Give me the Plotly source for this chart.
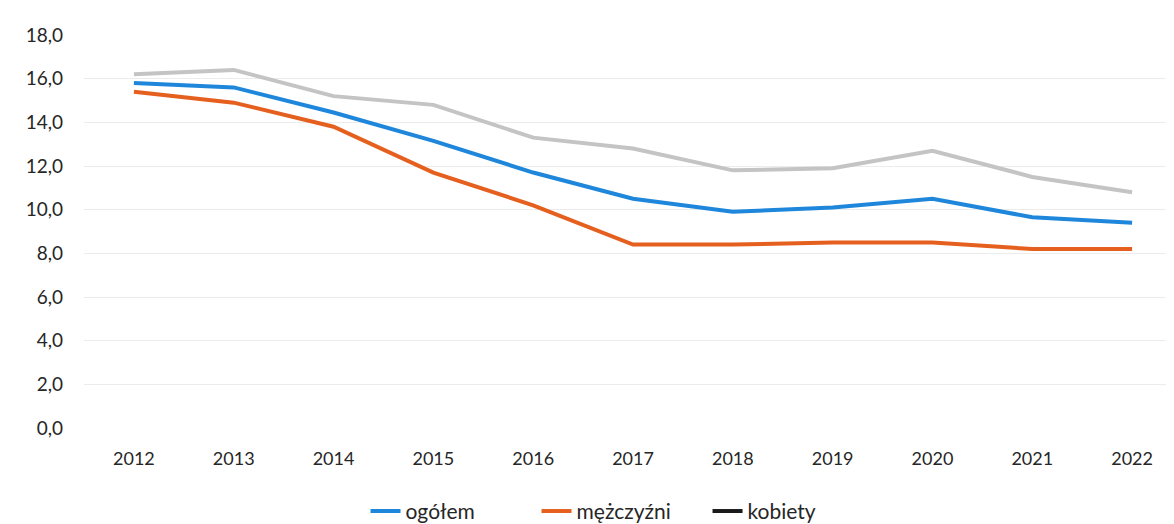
import plotly.graph_objects as go

years = ['2012', '2013', '2014', '2015', '2016', '2017', '2018', '2019', '2020', '2021', '2022']
ogolem = [15.8, 15.6, 14.45, 13.15, 11.7, 10.5, 9.9, 10.1, 10.5, 9.65, 9.4]
mezczyzni = [15.4, 14.9, 13.8, 11.7, 10.2, 8.4, 8.4, 8.5, 8.5, 8.2, 8.2]
kobiety = [16.2, 16.4, 15.2, 14.8, 13.3, 12.8, 11.8, 11.9, 12.7, 11.5, 10.8]
y_ticks = [0, 2, 4, 6, 8, 10, 12, 14, 16, 18]

fig = go.Figure()

fig.add_trace(go.Scatter(x=years, y=kobiety, name='kobiety', mode='lines',
                         line=dict(color='#c4c4c4', width=4), showlegend=False))
fig.add_trace(go.Scatter(x=years, y=ogolem, name='ogółem', mode='lines',
                         line=dict(color='#1f87db', width=4)))
fig.add_trace(go.Scatter(x=years, y=mezczyzni, name='mężczyźni', mode='lines',
                         line=dict(color='#e5601e', width=4)))
# legend entry for kobiety is drawn black in the original
fig.add_trace(go.Scatter(x=[None], y=[None], name='kobiety', mode='lines',
                         line=dict(color='#1a1a1a', width=4)))

fig.update_xaxes(type='category', range=[-0.5, len(years) - 0.5],
                 showgrid=False, showline=False, zeroline=False,
                 ticks='', ticklabelstandoff=18, tickfont=dict(size=18, color='#262626'))
fig.update_yaxes(range=[0, 18], tickvals=y_ticks, tickformat='.1f',
                 showgrid=True, gridcolor='#ececec', gridwidth=1, zeroline=False,
                 showline=False, ticks='', ticklabelstandoff=20,
                 tickfont=dict(size=19, color='#262626'))

fig.update_layout(width=1174, height=524, autosize=False,
                  margin=dict(l=76, r=0, t=27, b=97),
                  separators=', ',
                  font=dict(family='Lato, Open Sans, sans-serif', color='#262626'),
                  plot_bgcolor='white', paper_bgcolor='white',
                  legend=dict(orientation='h', x=0.49, xanchor='center', y=-0.16, yanchor='top',
                              font=dict(size=21), traceorder='normal',
                              entrywidth=126, entrywidthmode='pixels'))

fig.write_html("out.html")
